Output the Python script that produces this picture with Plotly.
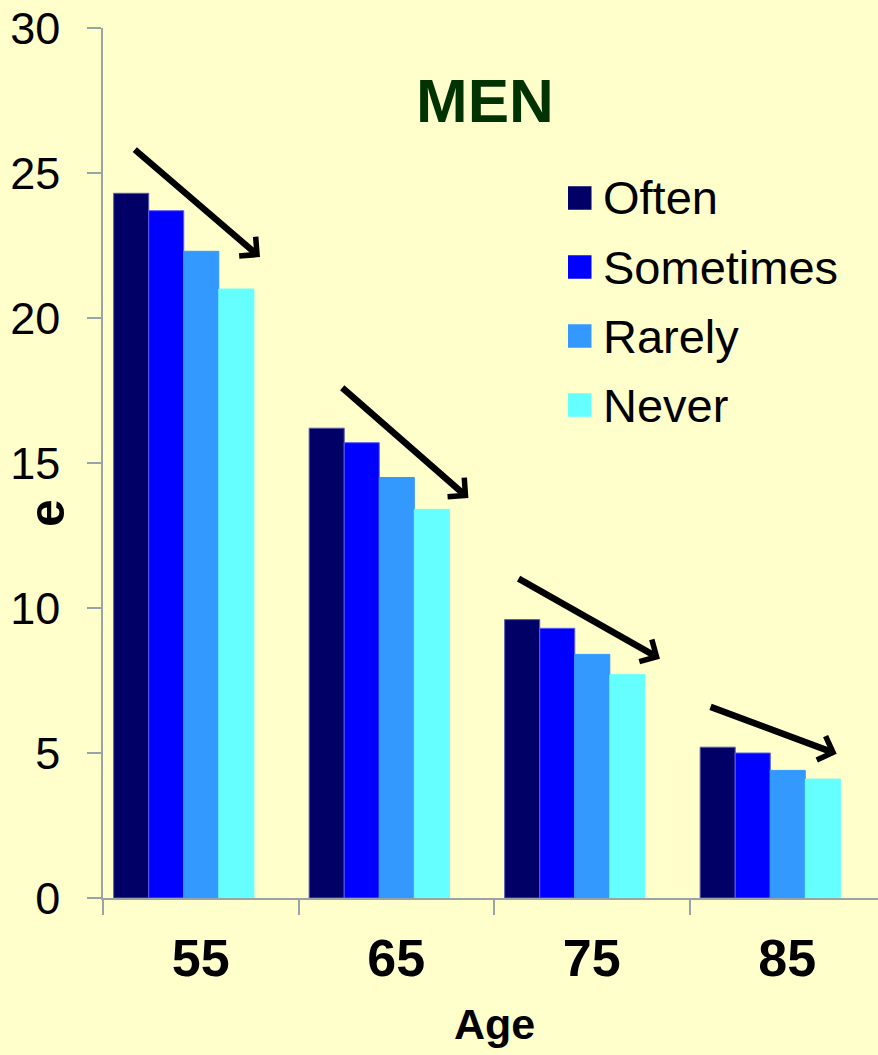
import plotly.graph_objects as go

# Life expectancy (e) of men by age and frequency of activity
ages = ["55", "65", "75", "85"]
series_names = ["Often", "Sometimes", "Rarely", "Never"]
often = [24.3, 16.2, 9.6, 5.2]
sometimes = [23.7, 15.7, 9.3, 5.0]
rarely = [22.3, 14.5, 8.4, 4.4]
never = [21.0, 13.4, 7.7, 4.1]
y_ticks = [0, 5, 10, 15, 20, 25, 30]

series_values = [often, sometimes, rarely, never]
colors = ["#000066", "#0000FF", "#3399FF", "#66FFFF"]
edge_colors = ["#5c5ca8", "#5c5cf0", "#3399FF", "#66FFFF"]

BG = "#FFFFCC"
AXIS_GRAY = "#9aa4a6"
FONT = "Liberation Sans, Arial, sans-serif"

W, H = 878, 1055
M_L, M_R, M_T, M_B = 103, 0, 28, 157
PLOT_W = W - M_L - M_R
PLOT_H = H - M_T - M_B

# each category is ~195.5 px wide; the visible range is cut at the right edge
CAT_PX = 195.5
x_end = -0.5 + PLOT_W / CAT_PX

bar_w = 0.1793
group_start = -0.4455


def px_x(p):
    return (p - M_L) / PLOT_W


def px_y(p):
    return (H - M_B - p) / PLOT_H


fig = go.Figure()
for i, (name, vals) in enumerate(zip(series_names, series_values)):
    fig.add_trace(go.Bar(
        x=ages, y=vals, name=name,
        width=bar_w, offset=group_start + i * bar_w,
        marker=dict(color=colors[i], line=dict(color=edge_colors[i], width=1)),
        showlegend=False,
    ))

annotations = []
shapes = []

# hand-placed legend with large swatches
legend_rows = [198 + 69 * i for i in range(len(series_names))]
for i, name in enumerate(series_names):
    cy = legend_rows[i]
    shapes.append(dict(
        type="rect", xref="paper", yref="paper",
        x0=px_x(568), x1=px_x(591.5), y0=px_y(cy + 11.75), y1=px_y(cy - 11.75),
        fillcolor=colors[i], line=dict(width=0), layer="above",
    ))
    annotations.append(dict(
        xref="paper", yref="paper", x=px_x(601), y=px_y(cy),
        xanchor="left", yanchor="middle", showarrow=False, text=name,
        font=dict(family=FONT, size=47, color="black"),
    ))

# trend arrows across each age group (tail -> head, axis units)
trend_arrows = [
    ((-0.345, 25.85), (0.303, 22.10)),
    ((0.716, 17.64), (1.369, 13.79)),
    ((1.618, 11.04), (2.349, 8.25)),
    ((2.600, 6.61), (3.253, 4.97)),
]
for (tx, ty), (hx, hy) in trend_arrows:
    annotations.append(dict(
        xref="x", yref="y", axref="x", ayref="y",
        x=hx, y=hy, ax=tx, ay=ty, text="",
        showarrow=True, arrowhead=4, arrowsize=0.75, arrowwidth=6.5,
        arrowcolor="black", standoff=0, startstandoff=0,
    ))

# chart title and axis titles
annotations.append(dict(
    xref="paper", yref="paper", x=px_x(485), y=px_y(100),
    xanchor="center", yanchor="middle", showarrow=False, text="<b>MEN</b>",
    font=dict(family=FONT, size=62, color="#003300"),
))
annotations.append(dict(
    xref="paper", yref="paper", x=px_x(494), y=px_y(1024),
    xanchor="center", yanchor="middle", showarrow=False, text="<b>Age</b>",
    font=dict(family=FONT, size=43, color="black"),
))
annotations.append(dict(
    xref="paper", yref="paper", x=px_x(47), y=px_y(513),
    xanchor="center", yanchor="middle", showarrow=False, text="<b>e</b>",
    textangle=-90, font=dict(family=FONT, size=50, color="black"),
))

fig.update_layout(
    width=W, height=H,
    margin=dict(l=M_L, r=M_R, t=M_T, b=M_B, pad=0),
    paper_bgcolor=BG, plot_bgcolor=BG,
    barmode="group",
    showlegend=False,
    annotations=annotations,
    shapes=shapes,
    xaxis=dict(
        type="category", range=[-0.5, x_end],
        tickson="boundaries", ticks="outside", ticklen=15, tickwidth=1.5,
        tickcolor=AXIS_GRAY, showline=True, linecolor=AXIS_GRAY, linewidth=1.5,
        showgrid=False, zeroline=False,
        tickfont=dict(family=FONT, size=52, color="black", weight="bold"),
        ticklabelstandoff=14,
    ),
    yaxis=dict(
        range=[0, 30], tickvals=y_ticks, ticks="outside", ticklen=14,
        tickwidth=1.5, tickcolor=AXIS_GRAY, showline=True,
        linecolor=AXIS_GRAY, linewidth=1.5,
        showgrid=False, zeroline=False,
        tickfont=dict(family=FONT, size=45, color="black"),
        ticklabelstandoff=18,
    ),
)

fig.write_html("out.html")
